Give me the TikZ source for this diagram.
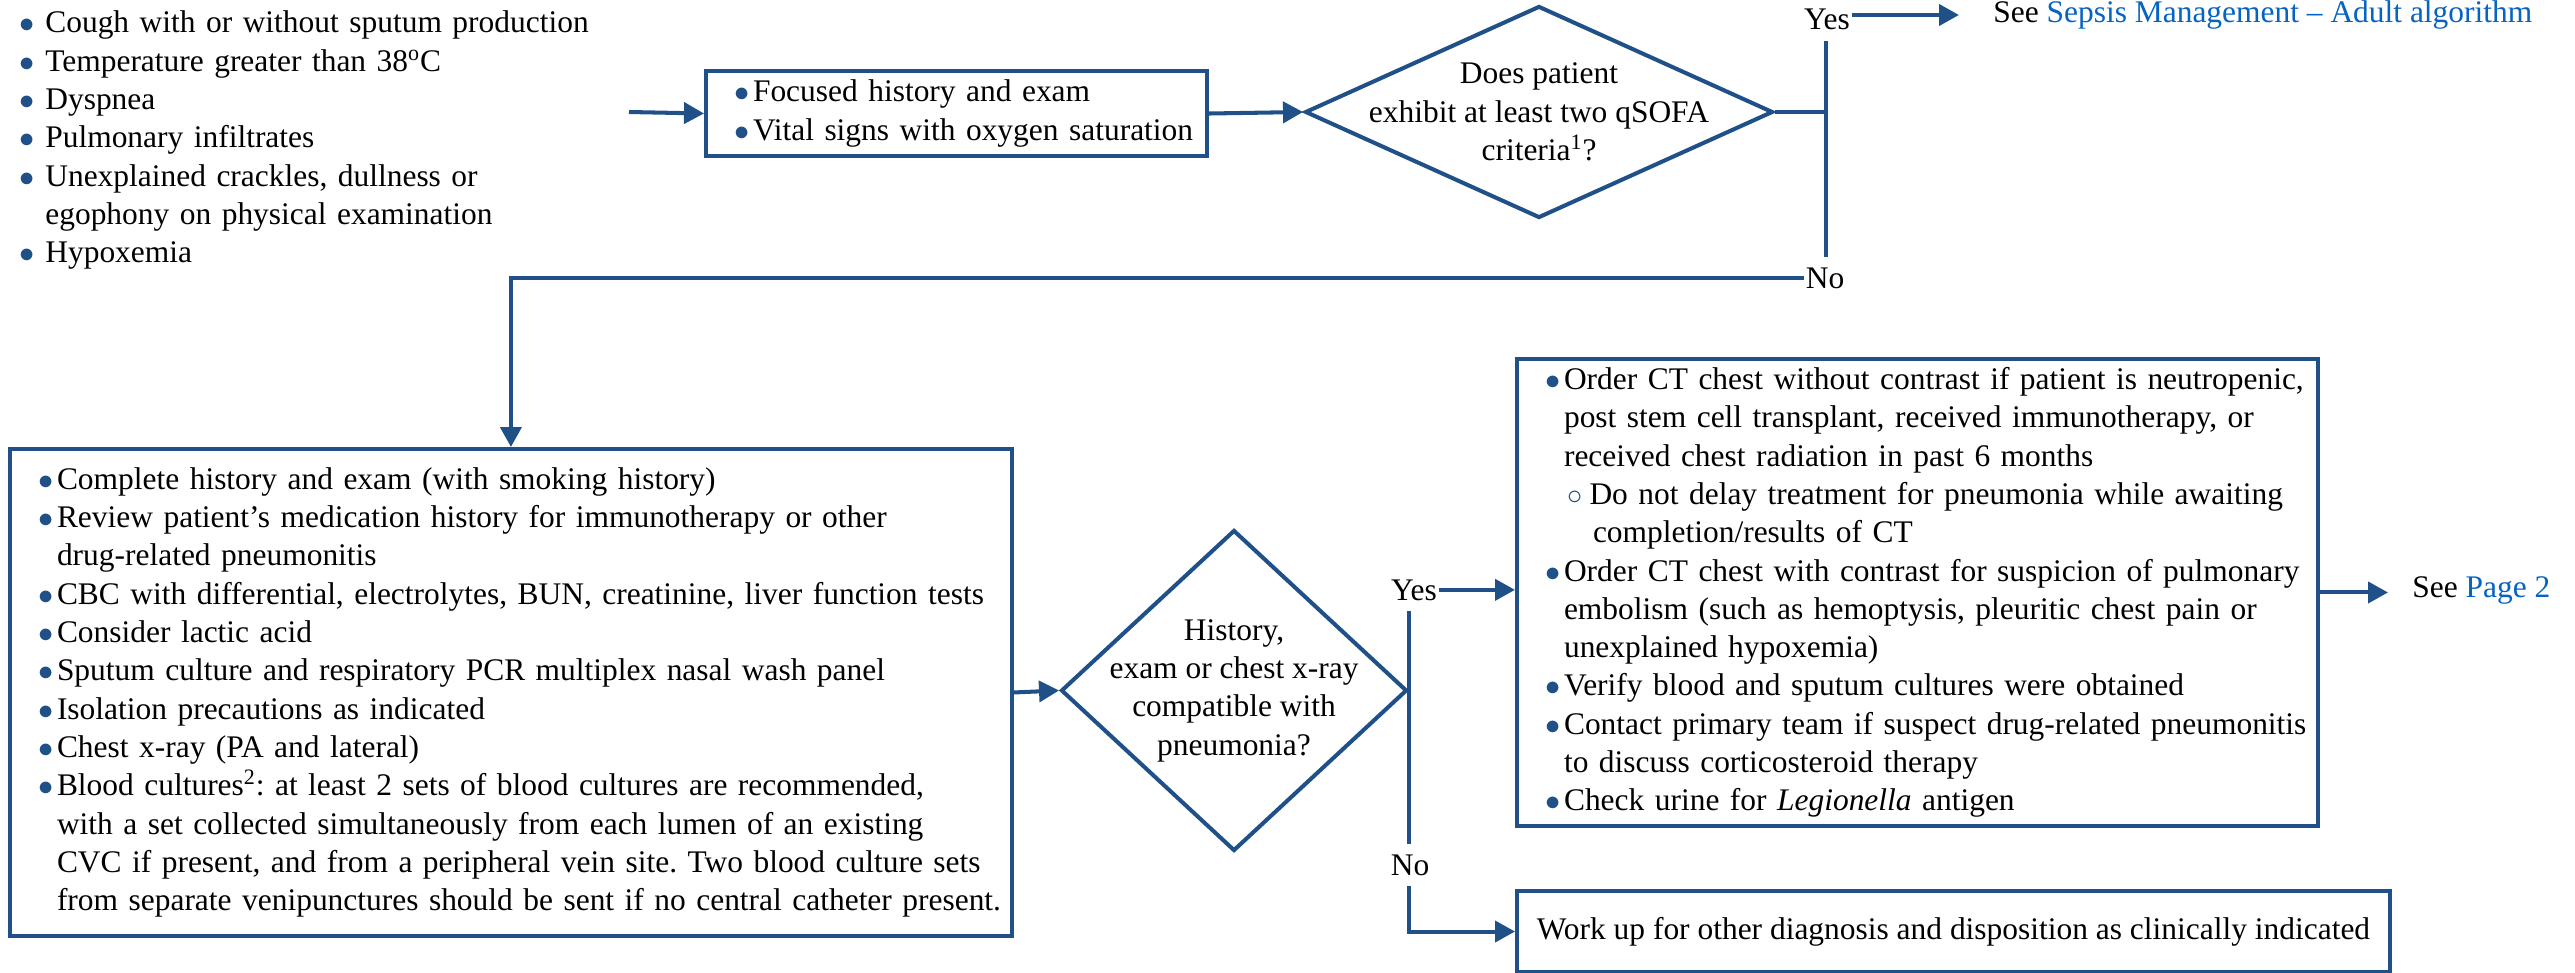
\documentclass[tikz,border=0pt]{standalone}
\usepackage{fontspec}
\setmainfont{Liberation Serif}
\usetikzlibrary{shapes.geometric,arrows.meta}
\definecolor{lineblue}{RGB}{31,80,136}
\definecolor{linkblue}{RGB}{5,99,193}
\newlength\bulw
\newcommand\listsetup[2]{\frenchspacing\raggedright\leftskip=#1\rightskip=-0.6cm plus 1fil\setlength\bulw{#2}\relax}
\newcommand\bulitem[1]{\hangindent=\bulw\hangafter=1\makebox[\bulw][l]{\textcolor{lineblue}{$\bullet$}}#1\par}
\newcommand\subbulitem[1]{\hangindent=0.95cm\hangafter=1\hspace*{0.44cm}\makebox[0.44cm][l]{\textcolor{lineblue}{$\circ$}}#1\par}

\begin{document}
\begin{tikzpicture}[x=0.02cm, y=-0.02cm,
  every node/.style={font=\fontsize{17.9}{21.8}\selectfont},
  box/.style={draw=lineblue, line width=2.3pt, anchor=north west, inner xsep=0.1cm, inner ysep=0pt},
  decision/.style={draw=lineblue, line width=2.3pt, diamond, inner sep=0pt},
  decisiontext/.style={align=center, inner sep=0pt},
  answer/.style={inner xsep=1pt, inner ysep=6pt, anchor=base},
  flow/.style={draw=lineblue, line width=2.3pt},
  arrow/.style={flow, -{Triangle[length=0.4cm,width=0.42cm]}}]

\useasboundingbox (0,0) rectangle (2575,973);

\node[inner sep=0pt, anchor=base west, text width=14cm] (signs) at (19,33) {\listsetup{0pt}{0.52cm}%
  \bulitem{Cough with or without sputum production}
  \bulitem{Temperature greater than 38\textsuperscript{o}C}
  \bulitem{Dyspnea}
  \bulitem{Pulmonary infiltrates}
  \bulitem{Unexplained crackles, dullness or\newline egophony on physical examination}
  \bulitem{Hypoxemia}};

\node[box, minimum width=10.02cm, minimum height=1.70cm, text width=9.82cm] (focus) at (704,69) {\listsetup{0.47cm}{0.37cm}%
  \bulitem{Focused history and exam}
  \bulitem{Vital signs with oxygen saturation}};

\node[decision, minimum width=9.36cm, minimum height=4.24cm] (qsofa) at (1539,112) {};
\node[decisiontext] (qsofatext) at (qsofa.center) {Does patient\\exhibit at least two qSOFA\\criteria\textsuperscript{1}?};

\node[answer] (yes1) at (1827,30) {Yes};
\node[answer] (no1) at (1825,288) {No};
\node[anchor=west, inner xsep=0.68cm, inner ysep=0pt] (sepsis) at (1959,15) {See \textcolor{linkblue}{Sepsis Management – Adult algorithm}};

\node[box, minimum width=20.04cm, minimum height=9.74cm, text width=19.84cm] (workup) at (8,447) {\listsetup{0.47cm}{0.37cm}%
  \bulitem{Complete history and exam (with smoking history)}
  \bulitem{Review patient’s medication history for immunotherapy or other\newline drug-related pneumonitis}
  \bulitem{CBC with differential, electrolytes, BUN, creatinine, liver function tests}
  \bulitem{Consider lactic acid}
  \bulitem{Sputum culture and respiratory PCR multiplex nasal wash panel}
  \bulitem{Isolation precautions as indicated}
  \bulitem{Chest x-ray (PA and lateral)}
  \bulitem{Blood cultures\textsuperscript{2}: at least 2 sets of blood cultures are recommended,\newline with a set collected simultaneously from each lumen of an existing\newline CVC if present, and from a peripheral vein site. Two blood culture sets\newline from separate venipunctures should be sent if no central catheter present.}};

\node[decision, minimum width=6.92cm, minimum height=6.42cm] (compat) at (1234,690.5) {};
\node[decisiontext] (compattext) at (compat.center) {History,\\exam or chest x-ray\\compatible with\\pneumonia?};

\node[answer] (yes2) at (1414,600) {Yes};
\node[answer] (no2) at (1410,875) {No};

\node[box, minimum width=16.02cm, minimum height=9.34cm, text width=15.82cm] (orders) at (1515,357) {\listsetup{0.47cm}{0.37cm}%
  \bulitem{Order CT chest without contrast if patient is neutropenic,\newline post stem cell transplant, received immunotherapy, or\newline received chest radiation in past 6 months}
  \subbulitem{Do not delay treatment for pneumonia while awaiting\newline completion/results of CT}
  \bulitem{Order CT chest with contrast for suspicion of pulmonary\newline embolism (such as hemoptysis, pleuritic chest pain or\newline unexplained hypoxemia)}
  \bulitem{Verify blood and sputum cultures were obtained}
  \bulitem{Contact primary team if suspect drug-related pneumonitis\newline to discuss corticosteroid therapy}
  \bulitem{Check urine for \textit{Legionella} antigen}};

\node[anchor=west, inner xsep=0.48cm, inner ysep=0pt] (page2) at (2388,590.5) {See \textcolor{linkblue}{Page 2}};

\node[box, minimum width=17.46cm, minimum height=1.62cm] (other) at (1515,889) {Work up for other diagnosis and disposition as clinically indicated};

\coordinate (entry) at (629,112);
\coordinate (split) at (1826,112);

\draw[arrow] (entry) -- (focus.west);
\draw[arrow] (focus.east) -- (qsofa.west);
\draw[flow] (qsofa.east) -- (split) -- (split |- yes1.south);
\draw[flow] (split) -- (split |- no1.north);
\draw[arrow] (yes1.east |- sepsis.west) -- (sepsis.west);
\draw[arrow] (no1.west) -| (workup.north);
\draw[arrow] (workup.east) -- (compat.west);
\draw[flow] (compat.east) -- (compat.east |- yes2.south);
\draw[flow] (compat.east) -- (compat.east |- no2.north);
\draw[arrow] (yes2.east) -- (yes2.east -| orders.west);
\draw[arrow] (compat.east |- no2.south) |- (other.west);
\draw[arrow] (orders.east) -- (orders.east -| page2.west);

\end{tikzpicture}
\end{document}
